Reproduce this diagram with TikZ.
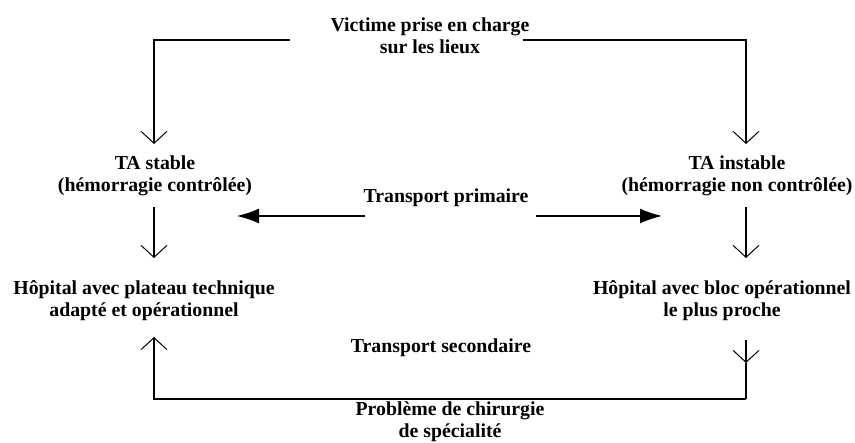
\documentclass[tikz,border=0pt]{standalone}
\usepackage{fontspec}
\setmainfont{Liberation Serif}
\usetikzlibrary{arrows.meta}
\begin{document}
\begin{tikzpicture}[x=1pt,y=-1pt,
  lbl/.style={font=\bfseries\fontsize{19.8}{22}\selectfont, align=center, inner sep=0pt},
  conn/.style={line width=1.2pt, black},
  varr/.style={conn, -{Straight Barb[length=12pt,width=26pt,line width=1pt]}},
  farr/.style={conn, -{Latex[length=22pt,width=15pt]}}]
\useasboundingbox (0,0) rectangle (855,443);
% texts
\node[lbl] (victim) at (430,36) {Victime prise en charge\\sur les lieux};
\node[lbl] (stable) at (155,176) {TA stable\\(hémorragie contrôlée)};
\node[lbl] (unstable) at (737,176) {TA instable\\(hémorragie non contrôlée)};
\node[lbl, anchor=base] (primary) at (446,203) {Transport primaire};
\node[lbl] (hosp1) at (144,301) {Hôpital avec plateau technique\\adapté et opérationnel};
\node[lbl] (hosp2) at (722,301) {Hôpital avec bloc opérationnel\\le plus proche};
\node[lbl, anchor=base] (secondary) at (441,353) {Transport secondaire};
\node[lbl] (problem) at (450,422) {Problème de chirurgie\\de spécialité};
% connector end points
\coordinate (tl) at (290,40);
\coordinate (tlc) at (154,40);
\coordinate (stIn) at (154,144);
\coordinate (tr) at (523,40);
\coordinate (trc) at (746,40);
\coordinate (unIn) at (746,144);
\coordinate (stOut) at (154,207);
\coordinate (h1In) at (154,258);
\coordinate (unOut) at (746,207);
\coordinate (h2In) at (746,258);
\coordinate (pL0) at (365,216);
\coordinate (pL1) at (237,216);
\coordinate (pR0) at (536,216);
\coordinate (pR1) at (662,216);
\coordinate (h2Out) at (746,340);
\coordinate (h2Mid) at (746,363);
\coordinate (brc) at (746,399);
\coordinate (blc) at (154,399);
\coordinate (h1Back) at (154,337);
% connectors
\draw[varr] (tl) -- (tlc) -- (stIn);
\draw[varr] (tr) -- (trc) -- (unIn);
\draw[varr] (stOut) -- (h1In);
\draw[varr] (unOut) -- (h2In);
\draw[farr] (pL0) -- (pL1);
\draw[farr] (pR0) -- (pR1);
\draw[varr] (h2Out) -- (h2Mid);
\draw[conn] (h2Mid) -- (brc);
\draw[varr] (brc) -- (blc) -- (h1Back);
\end{tikzpicture}
\end{document}
